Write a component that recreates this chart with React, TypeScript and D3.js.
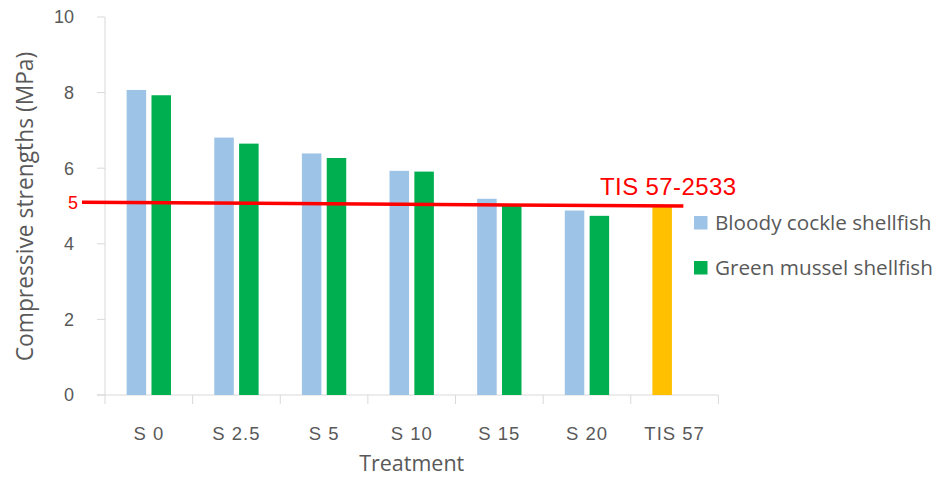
import React from "react";
import * as d3 from "d3";

// Compressive strength (MPa) by shell replacement treatment
const categories = ["S 0", "S 2.5", "S 5", "S 10", "S 15", "S 20", "TIS 57"];
const sampleCategories = ["S 0", "S 2.5", "S 5", "S 10", "S 15", "S 20"];
const bloodyCockle = [8.07, 6.81, 6.39, 5.93, 5.19, 4.88];
const greenMussel = [7.93, 6.65, 6.27, 5.91, 5.03, 4.74];
const standardCategory = "TIS 57";
const standardValue = 5;
// ends of the drawn standard line (left, right)
const standardLineValues = [5.1, 5.0];
const yTicks = [0, 2, 4, 6, 8, 10];
const seriesNames = ["Bloody cockle shellfish", "Green mussel shellfish"];

const W = 934;
const H = 477;
const BLUE = "#9DC3E6";
const GREEN = "#00B050";
const ORANGE = "#FFC000";
const RED = "#FF0000";
const TEXT = "#595959";
const AXIS = "#D9D9D9";

export default function App() {
  const plotLeft = 105;
  const plotRight = 718.4;
  const plotTop = 17;
  const plotBottom = 395;

  const y = d3.scaleLinear().domain([0, 10]).range([plotBottom, plotTop]);
  const x = d3
    .scaleBand<string>()
    .domain(categories)
    .range([plotLeft, plotRight])
    .paddingInner(0.494)
    .paddingOuter(0.247);
  const step = x.step();
  const xs = d3
    .scaleBand<string>()
    .domain(["a", "b"])
    .range([0, x.bandwidth()])
    .paddingInner(0.214);

  const lineX0 = plotLeft - 23;
  const lineX1 = plotRight - 35;

  const sansFont = "'Open Sans', sans-serif";
  const numFont = "'Liberation Sans', Arial, sans-serif";

  return (
    <svg
      width={W}
      height={H}
      style={{ position: "absolute", left: 0, top: 0, background: "#fff" }}
    >
      {/* y axis */}
      <line x1={plotLeft} x2={plotLeft} y1={plotTop} y2={plotBottom} stroke={AXIS} strokeWidth={1} />
      {yTicks.map((t) => (
        <g key={t}>
          <line x1={plotLeft - 8} x2={plotLeft} y1={y(t)} y2={y(t)} stroke={AXIS} />
          <text
            x={74}
            y={y(t)}
            dy="0.35em"
            textAnchor="end"
            fontFamily={numFont}
            fontSize={18}
            fill={TEXT}
          >
            {t}
          </text>
        </g>
      ))}

      {/* x axis */}
      <line x1={plotLeft - 8} x2={plotRight} y1={plotBottom} y2={plotBottom} stroke={AXIS} />
      {categories.map((c, i) => (
        <line
          key={"t" + c}
          x1={plotLeft + i * step}
          x2={plotLeft + i * step}
          y1={plotBottom}
          y2={plotBottom + 9}
          stroke={AXIS}
        />
      ))}
      <line x1={plotLeft + categories.length * step} x2={plotLeft + categories.length * step} y1={plotBottom} y2={plotBottom + 9} stroke={AXIS} />
      {categories.map((c) => (
        <text
          key={"l" + c}
          x={(x(c) as number) + x.bandwidth() / 2}
          y={434}
          dy="0.35em"
          textAnchor="middle"
          fontFamily={numFont}
          fontSize={18.5}
          letterSpacing={1}
          fill={TEXT}
        >
          {c}
        </text>
      ))}

      {/* bars */}
      {sampleCategories.map((c, i) => (
        <g key={"b" + c}>
          <rect
            x={(x(c) as number) + (xs("a") as number)}
            y={y(bloodyCockle[i])}
            width={xs.bandwidth()}
            height={plotBottom - y(bloodyCockle[i])}
            fill={BLUE}
          />
          <rect
            x={(x(c) as number) + (xs("b") as number)}
            y={y(greenMussel[i])}
            width={xs.bandwidth()}
            height={plotBottom - y(greenMussel[i])}
            fill={GREEN}
          />
        </g>
      ))}
      <rect
        x={(x(standardCategory) as number) + (xs("a") as number)}
        y={y(standardValue)}
        width={xs.bandwidth()}
        height={plotBottom - y(standardValue)}
        fill={ORANGE}
      />

      {/* standard line */}
      <line
        x1={lineX0}
        x2={lineX1}
        y1={y(standardLineValues[0])}
        y2={y(standardLineValues[1])}
        stroke={RED}
        strokeWidth={3.5}
      />
      <text
        x={78}
        y={y(standardLineValues[0])}
        dy="0.35em"
        textAnchor="end"
        fontFamily={numFont}
        fontSize={18}
        fill={RED}
      >
        {standardValue}
      </text>
      <text x={600} y={195} fontFamily={numFont} fontSize={24} letterSpacing={0.4} fill={RED}>
        TIS 57-2533
      </text>

      {/* legend */}
      {seriesNames.map((name, i) => (
        <g key={name} transform={`translate(694, ${222.5 + i * 45})`}>
          <rect x={0} y={-6.5} width={13.5} height={13.5} fill={i === 0 ? BLUE : GREEN} />
          <text x={21} y={0} dy="0.35em" fontFamily={sansFont} fontSize={20.7} fill={TEXT}>
            {name}
          </text>
        </g>
      ))}

      {/* axis titles */}
      <text
        transform={`translate(25, ${(48 + 365) / 2}) rotate(-90)`}
        textAnchor="middle"
        dy="0.35em"
        fontFamily={sansFont}
        fontSize={22.8}
        fill={TEXT}
      >
        Compressive strengths (MPa)
      </text>
      <text
        x={(plotLeft + plotRight) / 2}
        y={471}
        textAnchor="middle"
        fontFamily={sansFont}
        fontSize={21.5}
        fill={TEXT}
      >
        Treatment
      </text>
    </svg>
  );
}
